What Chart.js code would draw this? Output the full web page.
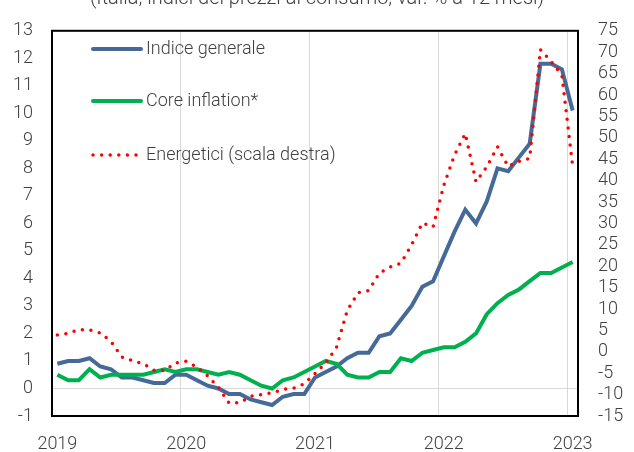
<!DOCTYPE html>
<html>
<head>
<meta charset="utf-8">
<script src="https://cdn.jsdelivr.net/npm/chart.js@4"></script>
<style>
  body { margin: 0; background: #fff; }
  #wrap { width: 634px; height: 452px; }
</style>
</head>
<body>
<div id="wrap"><canvas id="inflChart" width="634" height="452"></canvas></div>
<script>
const mesi = [
    "gen 2019", "feb 2019", "mar 2019", "apr 2019", "mag 2019", "giu 2019", "lug 2019", "ago 2019", "set 2019", "ott 2019", "nov 2019", "dic 2019",
    "gen 2020", "feb 2020", "mar 2020", "apr 2020", "mag 2020", "giu 2020", "lug 2020", "ago 2020", "set 2020", "ott 2020", "nov 2020", "dic 2020",
    "gen 2021", "feb 2021", "mar 2021", "apr 2021", "mag 2021", "giu 2021", "lug 2021", "ago 2021", "set 2021", "ott 2021", "nov 2021", "dic 2021",
    "gen 2022", "feb 2022", "mar 2022", "apr 2022", "mag 2022", "giu 2022", "lug 2022", "ago 2022", "set 2022", "ott 2022", "nov 2022", "dic 2022",
    "gen 2023"
];
const anni = ["2019", "2020", "2021", "2022", "2023"];

const indiceGenerale = [
    0.9, 1.0, 1.0, 1.1, 0.8, 0.7, 0.4, 0.4, 0.3, 0.2, 0.2, 0.5,
    0.5, 0.3, 0.1, 0.0, -0.2, -0.2, -0.4, -0.5, -0.6, -0.3, -0.2, -0.2,
    0.4, 0.6, 0.8, 1.1, 1.3, 1.3, 1.9, 2.0, 2.5, 3.0, 3.7, 3.9,
    4.8, 5.7, 6.5, 6.0, 6.8, 8.0, 7.9, 8.4, 8.9, 11.8, 11.8, 11.6,
    10.1
];
const coreInflation = [
    0.5, 0.3, 0.3, 0.7, 0.4, 0.5, 0.5, 0.5, 0.5, 0.6, 0.7, 0.6,
    0.7, 0.7, 0.6, 0.5, 0.6, 0.5, 0.3, 0.1, 0.0, 0.3, 0.4, 0.6,
    0.8, 1.0, 0.9, 0.5, 0.4, 0.4, 0.6, 0.6, 1.1, 1.0, 1.3, 1.4,
    1.5, 1.5, 1.7, 2.0, 2.7, 3.1, 3.4, 3.6, 3.9, 4.2, 4.2, 4.4,
    4.6
];
const energetici = [
    3.9, 4.3, 5.2, 5.1, 4.4, 2.4, -1.2, -2.1, -2.8, -4.3, -4.4, -2.6,
    -2.2, -3.6, -5.6, -8.3, -12.0, -11.9, -10.4, -10.0, -9.6, -8.8, -8.5, -7.5,
    -5.1, -2.6, 1.0, 9.6, 13.8, 14.3, 18.4, 19.8, 20.7, 25.0, 30.1, 29.2,
    38.9, 46.0, 51.0, 39.7, 43.2, 47.9, 43.3, 44.5, 45.2, 70.6, 67.8, 64.6,
    43.4
];

const BLU = "#466a97";
const VERDE = "#00b050";
const ROSSO = "#ff0000";
const TESTO = "#404040";
const FONT = "Roboto";

// cornice nera attorno all'area del grafico + titolo tagliato in alto
const cornice = {
    id: "cornice",
    afterDraw(chart) {
        const { ctx, chartArea: a } = chart;
        ctx.save();
        ctx.strokeStyle = "#000";
        ctx.lineWidth = 2;
        ctx.strokeRect(a.left, a.top, a.right - a.left, a.bottom - a.top);
        ctx.fillStyle = TESTO;
        ctx.font = "300 20px " + FONT;
        ctx.textAlign = "center";
        ctx.textBaseline = "alphabetic";
        ctx.fillText("(Italia; indici dei prezzi al consumo; var. % a 12 mesi)", 317, 4);
        ctx.restore();
    }
};

// legenda dentro l'area del grafico
const legenda = {
    id: "legenda",
    afterDraw(chart) {
        const ctx = chart.ctx;
        const voci = [
            { testo: "Indice generale", colore: BLU, y: 49, punti: false },
            { testo: "Core inflation*", colore: VERDE, y: 101, punti: false },
            { testo: "Energetici (scala destra)", colore: ROSSO, y: 155, punti: true }
        ];
        ctx.save();
        voci.forEach(v => {
            ctx.beginPath();
            ctx.strokeStyle = v.colore;
            ctx.lineCap = "round";
            if (v.punti) {
                ctx.lineWidth = 3.5;
                ctx.setLineDash([0, 8.6]);
            } else {
                ctx.lineWidth = 4;
                ctx.setLineDash([]);
            }
            ctx.moveTo(93, v.y);
            ctx.lineTo(141, v.y);
            ctx.stroke();
            ctx.fillStyle = TESTO;
            ctx.font = "300 18px " + FONT;
            ctx.textAlign = "left";
            ctx.textBaseline = "middle";
            ctx.fillText(v.testo, 146, v.y);
        });
        ctx.restore();
    }
};

const ctx = document.getElementById("inflChart").getContext("2d");
const chart = new Chart(ctx, {
    type: "line",
    data: {
        labels: mesi,
        datasets: [
            {
                label: "Indice generale",
                data: indiceGenerale,
                borderColor: BLU,
                borderWidth: 4,
                pointRadius: 0,
                yAxisID: "y",
                order: 3
            },
            {
                label: "Core inflation*",
                data: coreInflation,
                borderColor: VERDE,
                borderWidth: 4,
                pointRadius: 0,
                yAxisID: "y",
                order: 2
            },
            {
                label: "Energetici (scala destra)",
                data: energetici,
                borderColor: ROSSO,
                borderWidth: 3.5,
                borderDash: [0, 8.6],
                borderCapStyle: "round",
                pointRadius: 0,
                yAxisID: "y1",
                order: 1
            }
        ]
    },
    options: {
        responsive: false,
        animation: false,
        layout: { padding: { top: 14, left: 0, right: 0, bottom: 0 } },
        plugins: {
            legend: { display: false },
            tooltip: { enabled: false },
            title: { display: false }
        },
        scales: {
            x: {
                offset: true,
                grid: {
                    offset: true,
                    drawTicks: false,
                    lineWidth: 1,
                    color: c => (c.index > 0 && c.index % 12 === 0) ? "#d9d9d9" : "transparent"
                },
                border: { display: false },
                ticks: {
                    autoSkip: false,
                    maxRotation: 0,
                    padding: 18,
                    color: TESTO,
                    font: { family: FONT, size: 18, weight: 300 },
                    callback: (v, i) => (i % 12 === 0) ? anni[i / 12] : ""
                },
                afterFit: s => { s.height = 36; }
            },
            y: {
                position: "left",
                min: -1,
                max: 13,
                grid: {
                    drawTicks: false,
                    color: c => (c.tick && c.tick.value === 0) ? "#d9d9d9" : "transparent"
                },
                border: { display: false },
                ticks: {
                    stepSize: 1,
                    autoSkip: false,
                    padding: 19,
                    color: TESTO,
                    font: { family: FONT, size: 18, weight: 300 }
                },
                afterFit: s => { s.width = 52; }
            },
            y1: {
                position: "right",
                min: -15,
                max: 75,
                grid: { display: false, drawTicks: false },
                border: { display: false },
                ticks: {
                    stepSize: 5,
                    autoSkip: false,
                    padding: 20,
                    color: TESTO,
                    font: { family: FONT, size: 18, weight: 300 }
                },
                afterFit: s => { s.width = 56; }
            }
        }
    },
    plugins: [cornice, legenda]
});
</script>
</body>
</html>
